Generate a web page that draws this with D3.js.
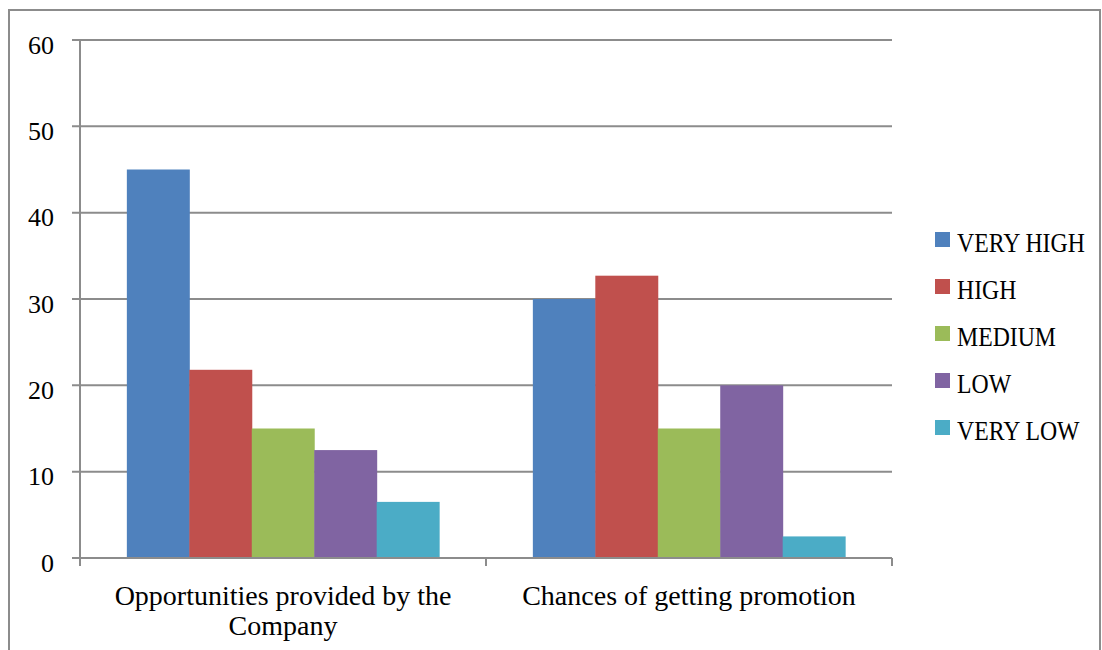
<!DOCTYPE html>
<html>
<head>
<meta charset="utf-8">
<script src="https://cdn.jsdelivr.net/npm/d3@7"></script>
<style>
  body { margin: 0; background: #fff; }
  svg text { font-family: "Liberation Serif", "DejaVu Serif", serif; fill: #000; }
</style>
</head>
<body>
<svg id="chart" width="1102" height="650"></svg>
<script>
const categories = ["Opportunities provided by the Company", "Chances of getting promotion"];
const seriesNames = ["VERY HIGH", "HIGH", "MEDIUM", "LOW", "VERY LOW"];
const veryHigh = [45, 30];
const high = [21.8, 32.7];
const medium = [15, 15];
const low = [12.5, 20];
const veryLow = [6.5, 2.5];
const yTicks = [0, 10, 20, 30, 40, 50, 60];
const colors = ["#4F81BD", "#C0504D", "#9BBB59", "#8064A2", "#4BACC6"];

const seriesValues = [veryHigh, high, medium, low, veryLow];
const margin = { top: 40, left: 80 };
const width = 812, height = 518;

const svg = d3.select("#chart");

// outer frame
svg.append("rect")
  .attr("x", 9).attr("y", 10)
  .attr("width", 1091).attr("height", 700)
  .attr("fill", "none").attr("stroke", "#8c8c8c").attr("stroke-width", 2);

const x0 = d3.scaleBand().domain(categories).range([0, width]);
const x1 = d3.scaleBand().domain(seriesNames)
  .range([0, x0.bandwidth()]).paddingInner(0).paddingOuter(0.75);
const y = d3.scaleLinear().domain([0, 60]).range([height, 0]);

const g = svg.append("g").attr("transform", `translate(${margin.left},${margin.top})`);

// gridlines
g.selectAll(".grid").data(yTicks).enter().append("line")
  .attr("x1", -8).attr("x2", width)
  .attr("y1", d => y(d)).attr("y2", d => y(d))
  .attr("stroke", "#8c8c8c").attr("stroke-width", 2);

// y axis
const yAxis = g.append("g").call(d3.axisLeft(y).tickValues(yTicks).tickSize(0).tickPadding(26));
yAxis.select(".domain").remove();
yAxis.selectAll("text")
  .style("font-size", "26px")
  .attr("dy", 13)
  .attr("fill", "#000");
g.append("line").attr("x1", 0).attr("x2", 0).attr("y1", 0).attr("y2", height)
  .attr("stroke", "#8c8c8c").attr("stroke-width", 2);

// bars
const rows = categories.map((c, i) => ({ cat: c, vals: seriesNames.map((s, j) => ({ s, v: seriesValues[j][i], j })) }));
g.selectAll(".grp").data(rows).enter().append("g")
  .attr("transform", d => `translate(${x0(d.cat)},0)`)
  .selectAll("rect").data(d => d.vals).enter().append("rect")
  .attr("x", d => x1(d.s))
  .attr("width", x1.bandwidth() + 0.5)
  .attr("y", d => y(d.v))
  .attr("height", d => height - y(d.v))
  .attr("fill", d => colors[d.j]);

// x axis
g.append("line").attr("x1", 0).attr("x2", width).attr("y1", height).attr("y2", height)
  .attr("stroke", "#8c8c8c").attr("stroke-width", 2);
const bounds = [0, x0.bandwidth(), width];
g.selectAll(".xt").data(bounds).enter().append("line")
  .attr("x1", d => d).attr("x2", d => d)
  .attr("y1", height).attr("y2", height + 8)
  .attr("stroke", "#8c8c8c").attr("stroke-width", 2);

const labelLines = [["Opportunities provided by the", "Company"], ["Chances of getting promotion"]];
categories.forEach((c, i) => {
  const t = g.append("text")
    .attr("x", x0(c) + x0.bandwidth() / 2)
    .attr("y", height + 47)
    .attr("text-anchor", "middle")
    .style("font-size", "28px");
  labelLines[i].forEach((ln, k) => {
    t.append("tspan").attr("x", x0(c) + x0.bandwidth() / 2).attr("dy", k === 0 ? 0 : 30).text(ln);
  });
});

// legend
const legend = svg.append("g").attr("transform", "translate(935,232)");
seriesNames.forEach((s, i) => {
  const row = legend.append("g").attr("transform", `translate(0,${i * 47})`);
  row.append("rect").attr("width", 15).attr("height", 15).attr("fill", colors[i]);
  const txt = row.append("text").attr("x", 22).attr("y", 20).style("font-size", "27px").text(s);
  // the original font has narrower capitals
  const w = txt.node().getComputedTextLength();
  txt.attr("textLength", w * 0.88).attr("lengthAdjust", "spacingAndGlyphs");
});
</script>
</body>
</html>
